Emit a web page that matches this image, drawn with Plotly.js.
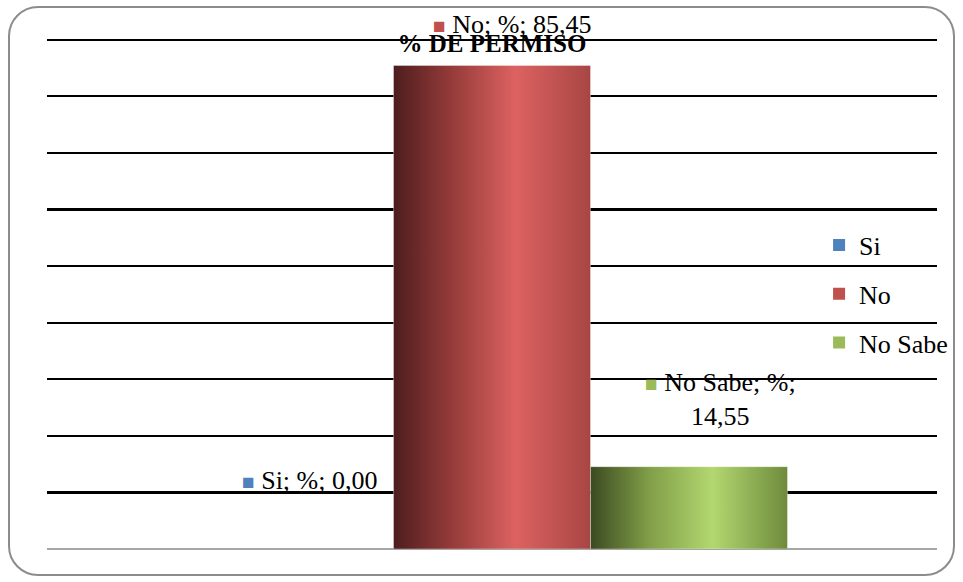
<!DOCTYPE html>
<html>
<head>
<meta charset="utf-8">
<script src="https://cdn.plot.ly/plotly-3.0.1.min.js"></script>
<style>
  html, body { margin: 0; padding: 0; background: #ffffff; }
  #chart { position: absolute; left: 0; top: 0; width: 963px; height: 582px; }
  #frame { position: absolute; left: 8px; top: 6px; width: 947px; height: 570px;
           box-sizing: border-box; border: 2px solid #8c8c8c; border-radius: 30px;
           pointer-events: none; }
</style>
</head>
<body>
<div id="chart"></div>
<div id="frame"></div>
<script>
// ---- data ----
const categories = ['%'];
const seriesNames = ['Si', 'No', 'No Sabe'];
const siValues = [0.00];
const noValues = [85.45];
const noSabeValues = [14.55];
const valueLabels = ['0,00', '85,45', '14,55'];
const seriesColors = ['#4f81bd', '#c0504d', '#9bbb59'];
const chartTitle = '% DE PERMISO';

const FONT = "'Liberation Serif', 'DejaVu Serif', serif";
const allValues = [siValues, noValues, noSabeValues];

const traces = seriesNames.map((name, i) => ({
  type: 'bar',
  name: name,
  x: categories,
  y: allValues[i],
  legendgroup: name,
  marker: { color: seriesColors[i], line: { width: 0 } },
  hoverinfo: 'none'
}));

function sq(color) {
  return '<span style="color:' + color + ';font-size:21px">■</span> ';
}

const annotations = [
  { x: categories[0], y: siValues[0], xref: 'x', yref: 'y',
    text: sq(seriesColors[0]) + seriesNames[0] + '; ' + categories[0] + '; ' + valueLabels[0],
    showarrow: false, xshift: -183, yshift: 69, yanchor: 'middle', xanchor: 'center' },
  { x: categories[0], y: noValues[0], xref: 'x', yref: 'y',
    text: sq(seriesColors[1]) + seriesNames[1] + '; ' + categories[0] + '; ' + valueLabels[1],
    showarrow: false, xshift: 20, yshift: 41, yanchor: 'middle', xanchor: 'center' },
  { x: categories[0], y: noSabeValues[0], xref: 'x', yref: 'y',
    text: sq(seriesColors[2]) + seriesNames[2] + '; ' + categories[0] + ';<br>' + valueLabels[2],
    showarrow: false, xshift: 228, yshift: 67, yanchor: 'middle', xanchor: 'center', align: 'center' }
];

const layout = {
  width: 963, height: 582,
  margin: { l: 47, r: 26, t: 38.3, b: 33, pad: 0, autoexpand: false },
  paper_bgcolor: 'rgba(0,0,0,0)', plot_bgcolor: 'rgba(0,0,0,0)',
  font: { family: FONT, size: 26, color: '#000000' },
  title: { text: '<b>' + chartTitle + '</b>', x: 0.5, xref: 'paper', xanchor: 'center',
           y: 1 - 43 / 582, yref: 'container', yanchor: 'middle',
           font: { family: FONT, size: 25, color: '#000000' } },
  barmode: 'group', bargap: 0.336, bargroupgap: 0,
  xaxis: { showticklabels: false, showgrid: false, zeroline: false, showline: false, ticks: '' },
  yaxis: { range: [0, 90.3], tickvals: [10, 20, 30, 40, 50, 60, 70, 80, 90], showticklabels: false, ticks: '',
           showgrid: true, gridcolor: '#000000', gridwidth: 2.2,
           zeroline: true, zerolinecolor: '#a6a6a6', zerolinewidth: 2, showline: false },
  showlegend: true,
  legend: { x: 0.8675, xanchor: 'left', y: 0.499, yanchor: 'middle',
            bgcolor: 'rgba(0,0,0,0)', borderwidth: 0, traceorder: 'grouped',
            tracegroupgap: 12, font: { family: FONT, size: 26, color: '#000000' } },
  annotations: annotations
};

function addGradients(gd) {
  const svg = gd.querySelector('.main-svg');
  const ns = 'http://www.w3.org/2000/svg';
  let defs = svg.querySelector('defs');
  if (!defs) { defs = document.createElementNS(ns, 'defs'); svg.insertBefore(defs, svg.firstChild); }
  const stopsets = [
    [['0', '#2b4470'], ['0.35', '#4a76ac'], ['0.62', '#7ea6db'], ['1', '#4a72a8']],
    [['0', '#4e1d1d'], ['0.3', '#963c3a'], ['0.62', '#dc6260'], ['1', '#a84644']],
    [['0', '#3b4a22'], ['0.3', '#819f48'], ['0.62', '#b3d770'], ['1', '#6e8b3c']]
  ];
  stopsets.forEach((stops, i) => {
    const id = 'bargrad' + i;
    if (svg.querySelector('#' + id)) return;
    const lg = document.createElementNS(ns, 'linearGradient');
    lg.setAttribute('id', id);
    lg.setAttribute('x1', '0'); lg.setAttribute('x2', '1');
    lg.setAttribute('y1', '0'); lg.setAttribute('y2', '0');
    stops.forEach(s => {
      const st = document.createElementNS(ns, 'stop');
      st.setAttribute('offset', s[0]);
      st.setAttribute('stop-color', s[1]);
      lg.appendChild(st);
    });
    defs.appendChild(lg);
  });
  const barTraces = gd.querySelectorAll('.barlayer .trace.bars');
  barTraces.forEach((t, i) => {
    t.querySelectorAll('path').forEach(p => {
      p.style.fill = 'url(#bargrad' + i + ')';
      p.style.stroke = 'rgba(255,255,255,0.35)';
      p.style.strokeWidth = '1px';
    });
  });
}

Plotly.newPlot('chart', traces, layout, { staticPlot: true, displayModeBar: false })
  .then(gd => addGradients(gd));
</script>
</body>
</html>
